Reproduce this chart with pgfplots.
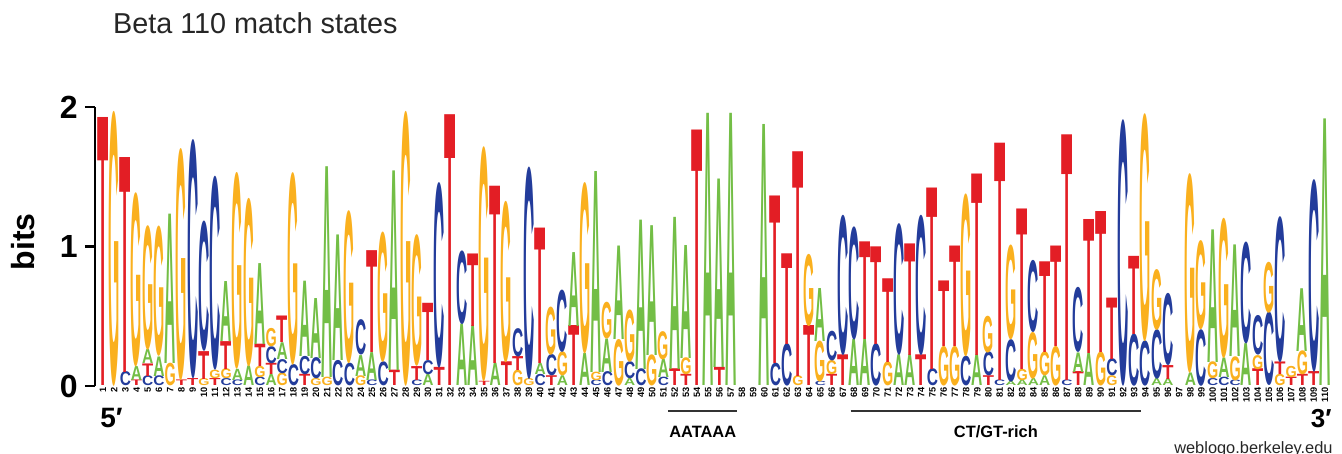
\documentclass[border=0pt]{standalone}
\usepackage{pgfplots}
\pgfplotsset{compat=1.18}
\usepackage{pgfplotstable}
\usepackage{graphicx}
\usepackage{fontspec}
\setmainfont{Liberation Sans}

\definecolor{cA}{RGB}{115,190,70}
\definecolor{cC}{RGB}{35,60,155}
\definecolor{cG}{RGB}{250,176,30}
\definecolor{cT}{RGB}{227,30,37}

% heights in bits, bottom slot first
\pgfplotstableread{
x   h1   l1 h2   l2 h3   l3 h4   l4
1   1.92 T  0    A  0    A  0    A
2   1.94 G  0    A  0    A  0    A
3   0.10 C  1.54 T  0    A  0    A
4   0.04 T  0.10 A  1.23 G  0    A
5   0.07 C  0.09 T  0.10 A  0.88 G
6   0.07 C  0.14 A  0.92 G  0    A
7   0.16 G  1.07 A  0    A  0    A
8   0.04 T  1.64 G  0    A  0    A
9   0.05 T  1.69 C  0    A  0    A
10  0.05 G  0.20 T  0.92 C  0    A
11  0.05 T  0.06 G  1.37 C  0    A
12  0.05 C  0.07 G  0.20 T  0.43 A
13  0.04 C  0.08 A  1.39 G  0    A
14  0.14 A  1.19 G  0    A  0    A
15  0.06 C  0.08 G  0.16 T  0.58 A
16  0.08 A  0.08 T  0.12 C  0.13 G
17  0.09 G  0.10 C  0.12 A  0.19 T
18  0.15 C  1.36 G  0    A  0    A
19  0.08 T  0.13 C  0.54 A  0    A
20  0.05 G  0.15 C  0.43 A  0    A
21  0.06 G  1.51 A  0    A  0    A
22  0.18 C  0.90 A  0    A  0    A
23  0.16 C  1.08 G  0    A  0    A
24  0.07 G  0.15 A  0.25 C  0    A
25  0.04 C  0.20 A  0.73 T  0    A
26  0.17 C  0.92 G  0    A  0    A
27  0.11 T  1.43 A  0    A  0    A
28  1.94 G  0    A  0    A  0    A
29  0.04 C  0.10 T  0.93 G  0    A
30  0.08 A  0.10 C  0.41 T  0    A
31  0.13 T  1.31 C  0    A  0    A
32  1.94 T  0    A  0    A  0    A
33  0.44 A  0.52 C  0    A  0    A
34  0.43 A  0.52 T  0    A  0    A
35  0.03 T  1.66 G  0    A  0    A
36  0.16 A  1.27 T  0    A  0    A
37  0.17 T  1.14 G  0    A  0    A
38  0.11 G  0.10 T  0.20 C  0    A
39  0.05 G  1.50 C  0    A  0    A
40  0.08 C  0.08 A  0.97 T  0    A
41  0.07 T  0.15 C  0.34 G  0    A
42  0.07 A  0.17 G  0.44 C  0    A
43  0.43 T  0.53 A  0    A  0    A
44  0.23 A  1.21 G  0    A  0    A
45  0.04 C  0.06 G  1.44 A  0    A
46  0.10 C  0.24 A  0.26 G  0    A
47  0.33 G  0.67 A  0    A  0    A
48  0.05 A  0.12 C  0.37 G  0    A
49  0.12 C  1.07 A  0    A  0    A
50  0.22 G  0.93 A  0    A  0    A
51  0.06 C  0.13 A  0.20 G  0    A
52  0.12 T  1.09 A  0    A  0    A
53  0.08 T  0.12 G  0.81 A  0    A
54  1.83 T  0    A  0    A  0    A
55  1.95 A  0    A  0    A  0    A
56  0.13 T  1.35 A  0    A  0    A
57  1.95 A  0    A  0    A  0    A
58  0    A  0    A  0    A  0    A
59  0    A  0    A  0    A  0    A
60  1.87 A  0    A  0    A  0    A
61  0.16 C  1.20 T  0    A  0    A
62  0.30 C  0.65 T  0    A  0    A
63  0.07 G  1.61 T  0    A  0    A
64  0.43 T  0.51 G  0    A  0    A
65  0.03 C  0.29 G  0.38 A  0    A
66  0.08 T  0.10 G  0.21 C  0    A
67  0.22 T  0.99 C  0    A  0    A
68  0.33 A  0.80 C  0    A  0    A
69  0.33 A  0.70 T  0    A  0    A
70  0.30 C  0.70 T  0    A  0    A
71  0.17 G  0.60 T  0    A  0    A
72  0.22 A  0.93 C  0    A  0    A
73  0.22 A  0.80 T  0    A  0    A
74  0.22 T  0.99 C  0    A  0    A
75  0.12 C  1.30 T  0    A  0    A
76  0.28 G  0.47 T  0    A  0    A
77  0.28 G  0.72 T  0    A  0    A
78  0.21 C  1.15 G  0    A  0    A
79  0.22 A  1.30 T  0    A  0    A
80  0.07 T  0.17 C  0.26 G  0    A
81  0.04 C  1.70 T  0    A  0    A
82  0.03 A  0.30 C  0.67 G  0    A
83  0.04 A  0.08 G  1.15 T  0    A
84  0.05 A  0.33 G  0.51 C  0    A
85  0.07 A  0.17 G  0.65 T  0    A
86  0.28 G  0.72 T  0    A  0    A
87  0.04 C  1.76 T  0    A  0    A
88  0.10 T  0.14 A  0.46 C  0    A
89  0.23 A  0.96 T  0    A  0    A
90  0.24 G  1.01 T  0    A  0    A
91  0.07 G  0.12 C  0.44 T  0    A
92  1.88 C  0    A  0    A  0    A
93  0.37 C  0.56 T  0    A  0    A
94  0.32 C  1.61 G  0    A  0    A
95  0.05 A  0.35 C  0.43 G  0    A
96  0.05 A  0.10 T  0.51 C  0    A
97  0    A  0    A  0    A  0    A
98  0.09 A  1.41 G  0    A  0    A
99  0.40 C  0.63 G  0    A  0    A
100 0.05 C  0.12 G  0.95 A  0    A
101 0.06 C  0.14 A  0.99 G  0    A
102 0.04 C  0.17 G  0.80 A  0    A
103 0.30 A  0.72 C  0    A  0    A
104 0.12 T  0.10 G  0.28 C  0    A
105 0.52 C  0.36 G  0    A  0    A
106 0.08 G  0.09 T  1.03 C  0    A
107 0.06 T  0.08 G  0    A  0    A
108 0.08 T  0.17 G  0.45 A  0    A
109 0.10 T  1.36 C  0    A  0    A
110 1.91 A  0    A  0    A  0    A
}\logo

% one stretched letter: #1 letter, #2 height in pt
\newcommand\logoletter[2]{%
  \ifdim#2pt>0.3pt\textcolor{c#1}{\resizebox{5.6pt}{#2pt}{\bfseries#1}}\fi}

\pgfplotsset{
  logo/.style={draw=none, mark=none, point meta=explicit symbolic,
    nodes near coords={\edef\lettr{\pgfplotspointmeta}%
      \expandafter\logoletter\expandafter{\lettr}{\hh}},
    nodes near coords align={anchor=south},
    every node near coord/.append style={inner sep=0pt, outer sep=0pt, anchor=south}},
}
\def\bitpt{69.75}

\begin{document}
\begin{tikzpicture}
\useasboundingbox (-47.5pt,-34pt) rectangle (623.5pt,193pt);
\begin{axis}[
  at={(0,0)}, anchor=south west, scale only axis,
  width=618.3pt, height=139.5pt,
  xmin=0.29, xmax=110.6, ymin=0, ymax=2,
  clip=false,
  axis y line*=left, axis x line*=bottom,
  x axis line style={draw=none},
  y axis line style={line width=1.2pt},
  ytick={0,1,2}, xtick={1,...,110},
  tick align=outside, major tick length=5pt,
  ytick style={line width=1.2pt, black},
  xtick style={draw=none},
  /pgf/number format/assume math mode=true,
  yticklabel style={font=\fontsize{16}{18}\selectfont\bfseries, inner sep=0pt},
  yticklabel shift=3.5pt,
  xticklabel style={font=\fontsize{4.6}{5}\selectfont\bfseries, rotate=90, anchor=east, inner sep=0pt},
  xticklabel shift=-4.5pt,
]
\addplot[logo, visualization depends on={\thisrow{h1}*\bitpt \as \hh}]
  table[x=x, y expr=0, meta=l1] {\logo};
\addplot[logo, visualization depends on={\thisrow{h2}*\bitpt \as \hh}]
  table[x=x, y expr=\thisrow{h1}, meta=l2] {\logo};
\addplot[logo, visualization depends on={\thisrow{h3}*\bitpt \as \hh}]
  table[x=x, y expr=\thisrow{h1}+\thisrow{h2}, meta=l3] {\logo};
\addplot[logo, visualization depends on={\thisrow{h4}*\bitpt \as \hh}]
  table[x=x, y expr=\thisrow{h1}+\thisrow{h2}+\thisrow{h3}, meta=l4] {\logo};

% motif brackets
\draw[line width=1pt, black!80] ([yshift=-12.4pt]axis cs:51.4,0) -- ([yshift=-12.4pt]axis cs:57.6,0);
\draw[line width=1pt, black!80] ([yshift=-12.4pt]axis cs:67.7,0) -- ([yshift=-12.4pt]axis cs:93.6,0);
\node[anchor=base, font=\fontsize{8.2}{9}\selectfont\bfseries] at ([yshift=-26pt]axis cs:54.5,0) {AATAAA};
\node[anchor=base, font=\fontsize{8.2}{9}\selectfont\bfseries] at ([yshift=-26pt]axis cs:80.65,0) {CT/GT-rich};
\end{axis}
\node[anchor=base west, font=\fontsize{14.4}{16}\selectfont, black!85] at (5.5pt,176.4pt) {Beta 110 match states};
\node[rotate=90, font=\fontsize{16}{18}\selectfont\bfseries] at (-36pt,72pt) {bits};
\node[anchor=base west, font=\fontsize{14}{16}\selectfont\bfseries, inner sep=0pt] at (2.5pt,-21pt) {5′};
\node[anchor=base east, font=\fontsize{13}{15}\selectfont\bfseries, inner sep=0pt] at (618.5pt,-21pt) {3′};
\node[anchor=base east, font=\fontsize{8.2}{9}\selectfont, inner sep=0pt, black!85] at (619pt,-34pt) {weblogo.berkeley.edu};
\end{tikzpicture}
\end{document}
